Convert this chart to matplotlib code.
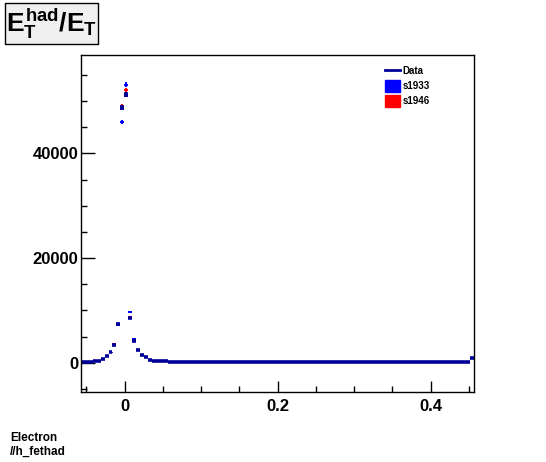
import numpy as np
import matplotlib.pyplot as plt
from matplotlib.lines import Line2D
from matplotlib.patches import Patch, FancyBboxPatch

plt.rcParams['font.family'] = ['Liberation Sans', 'DejaVu Sans']
plt.rcParams['font.weight'] = 'bold'
plt.rcParams['mathtext.fontset'] = 'custom'
plt.rcParams['mathtext.rm'] = 'Liberation Sans:bold'
plt.rcParams['mathtext.bf'] = 'Liberation Sans:bold'
plt.rcParams['mathtext.it'] = 'Liberation Sans:bold'

# histogram binning (E_T^had / E_T)
x_lo, x_hi = -0.057, 0.457
n_bins = 100

# Data counts per bin
data_counts = [150, 150, 160, 250, 400, 760, 1200, 1960, 3400, 7370,
               48760, 51240, 8630, 4060, 2480, 1400, 1000, 570, 380, 300,
               260, 240, 220, 200, 180, 160, 120, 90, 80, 60,
               50, 50, 50, 50, 50, 50, 50, 50, 50, 50,
               40, 40, 40, 40, 40, 40, 40, 40, 40, 40,
               40, 40, 40, 40, 40, 40, 40, 40, 40, 40,
               40, 40, 40, 40, 40, 40, 40, 40, 40, 40,
               40, 40, 40, 40, 40, 40, 40, 40, 40, 40,
               40, 40, 40, 40, 40, 40, 40, 40, 40, 40,
               40, 40, 40, 40, 40, 40, 40, 40, 40, 950]
s1933_counts = list(data_counts)
s1933_counts[9:14] = [7200, 46040, 53090, 9770, 4510]
s1946_counts = list(data_counts)
s1946_counts[8:13] = [3500, 7450, 49000, 52060, 8700]

edges = np.linspace(x_lo, x_hi, n_bins + 1)
centers = 0.5 * (edges[:-1] + edges[1:])
half_w = 0.5 * (edges[1] - edges[0])

fig = plt.figure(figsize=(5.46, 4.62), dpi=100)
ax = fig.add_axes([0.1484, 0.1515, 0.7203, 0.7294])

ax.errorbar(centers, s1933_counts, xerr=half_w, yerr=2 * np.sqrt(s1933_counts),
            fmt='none', ecolor='#0000ff', elinewidth=1.4, capsize=0)
ax.errorbar(centers, s1946_counts, xerr=half_w, yerr=2 * np.sqrt(s1946_counts),
            fmt='none', ecolor='#ff0000', elinewidth=1.4, capsize=0)
ax.errorbar(centers, data_counts, xerr=half_w, yerr=2 * np.sqrt(data_counts),
            fmt='none', ecolor='#000099', elinewidth=2.6, capsize=0)

ax.set_xlim(x_lo, x_hi)
ax.set_ylim(-5600, 58800)
ax.set_xticks([0, 0.2, 0.4])
ax.set_xticklabels(['0', '0.2', '0.4'])
ax.set_xticks(np.arange(-0.05, 0.46, 0.05), minor=True)
ax.set_yticks([0, 20000, 40000])
ax.set_yticks(np.arange(-5000, 58000, 5000), minor=True)
ax.tick_params(axis='both', which='both', direction='in', labelsize=12, width=1)
ax.tick_params(axis='x', which='major', length=8, pad=5)
ax.tick_params(axis='x', which='minor', length=4)
ax.tick_params(axis='y', which='major', length=10, pad=2)
ax.tick_params(axis='y', which='minor', length=4.5)
for lab in ax.get_xticklabels() + ax.get_yticklabels():
    lab.set_fontweight('bold')
for sp in ax.spines.values():
    sp.set_linewidth(1)

# legend
handles = [Line2D([], [], color='#000099', lw=2),
           Patch(facecolor='#0000ff', edgecolor='#0000ff'),
           Patch(facecolor='#ff0000', edgecolor='#ff0000')]
fig.legend(handles, ['Data', 's1933', 's1946'], loc='upper left',
           bbox_to_anchor=(0.69, 0.878), frameon=False,
           prop={'size': 7, 'weight': 'bold'}, handlelength=1.5,
           handleheight=1.5, handletextpad=0.25, labelspacing=0.3)

# title box
box = FancyBboxPatch((5 / 546, 1 - 44 / 462), 93 / 546, 41 / 462,
                     boxstyle='square,pad=0', transform=fig.transFigure,
                     facecolor='#f0f0f0', edgecolor='black', lw=1)
fig.add_artist(box)
fig.text(51 / 546, 1 - 24 / 462, r'$E_{T}^{had}/E_{T}$', ha='center', va='center',
         fontsize=19)

fig.text(10 / 546, 1 - 438 / 462, 'Electron', fontsize=8.5, fontweight='bold',
         va='center', ha='left')
fig.text(10 / 546, 1 - 452 / 462, '//h_fethad', fontsize=8.5, fontweight='bold',
         va='center', ha='left')

fig.savefig('out.png', dpi=100)
